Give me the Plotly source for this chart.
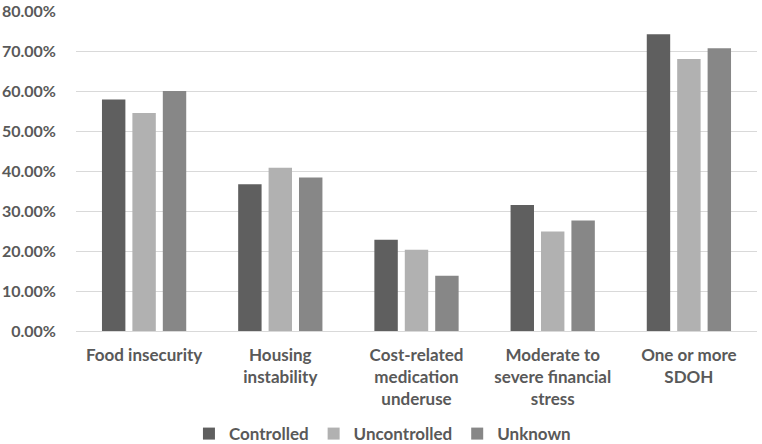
import plotly.graph_objects as go

categories = ["Food insecurity", "Housing<br>instability", "Cost-related<br>medication<br>underuse",
              "Moderate to<br>severe financial<br>stress", "One or more<br>SDOH"]
controlled = [57.9, 36.7, 22.8, 31.5, 74.2]
uncontrolled = [54.5, 40.8, 20.3, 24.9, 68.0]
unknown = [60.0, 38.4, 13.8, 27.6, 70.7]
y_ticks = [0, 10, 20, 30, 40, 50, 60, 70, 80]
y_tick_labels = ["0.00%", "10.00%", "20.00%", "30.00%", "40.00%",
                 "50.00%", "60.00%", "70.00%", "80.00%"]

FONT = "Lato, Calibri, sans-serif"
TEXT = "#595959"

fig = go.Figure([
    go.Bar(x=categories, y=controlled, name="Controlled", marker_color="#5f5f5f"),
    go.Bar(x=categories, y=uncontrolled, name="Uncontrolled", marker_color="#b1b1b1"),
    go.Bar(x=categories, y=unknown, name="Unknown", marker_color="#878787"),
])

fig.update_traces(marker_line_width=0)

fig.update_layout(
    width=762, height=444,
    margin=dict(l=76, r=5, t=11, b=113, autoexpand=False),
    plot_bgcolor="white", paper_bgcolor="white",
    barmode="group", bargap=0.33, bargroupgap=0.23,
    font=dict(family=FONT, size=17, color=TEXT, weight="bold"),
    legend=dict(orientation="h", x=0.45, xanchor="center", y=-0.322, yanchor="middle",
                font=dict(size=17, color=TEXT, weight="bold"),
                itemwidth=30, traceorder="normal"),
    showlegend=True,
)

fig.update_yaxes(range=[0, 80], tickvals=y_ticks, ticktext=y_tick_labels,
                 showgrid=True, gridcolor="#d9d9d9", gridwidth=1,
                 zeroline=True, zerolinecolor="#d9d9d9", zerolinewidth=1,
                 showline=False, ticklabelstandoff=19, automargin=False,
                 tickfont=dict(size=16, color=TEXT, weight="bold"))
fig.update_xaxes(showline=False, showgrid=False, ticks="", ticklabelstandoff=12,
                 automargin=False,
                 tickfont=dict(size=17, color=TEXT, weight="bold"), tickangle=0)

# drop the browser's default 8px body margin so the figure fills the window
fig.write_html("out.html", config={"displayModeBar": False},
               post_script="document.body.style.margin='0px';")
